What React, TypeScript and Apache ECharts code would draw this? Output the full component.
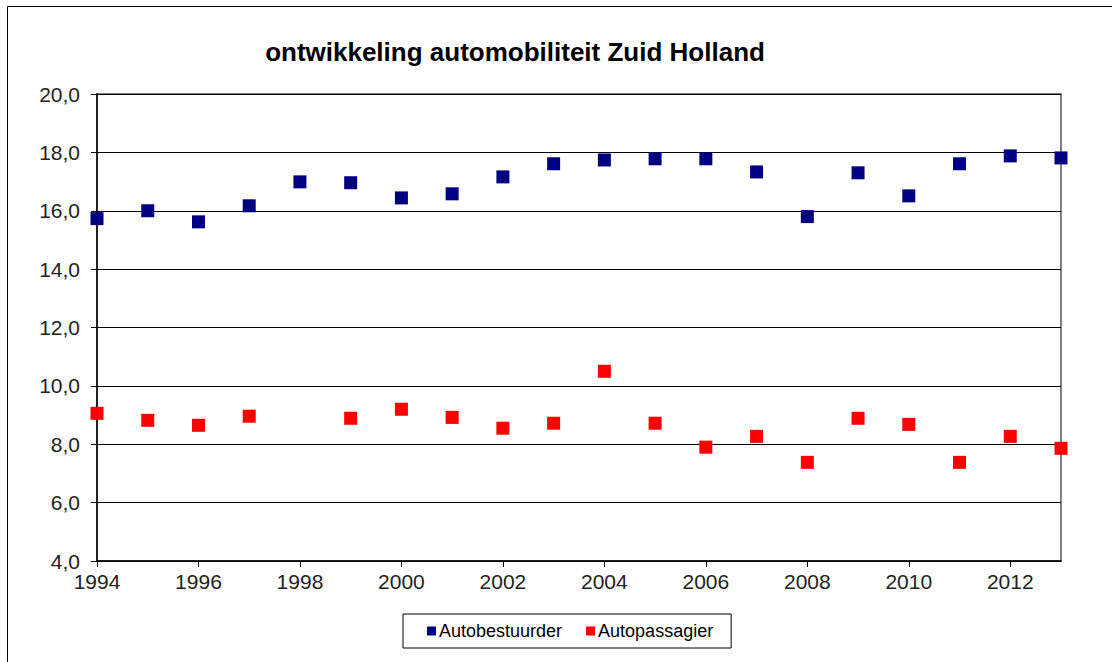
import React, { useEffect, useRef } from "react";
import * as echarts from "echarts";

const years = [1994, 1995, 1996, 1997, 1998, 1999, 2000, 2001, 2002, 2003, 2004, 2005, 2006, 2007, 2008, 2009, 2010, 2011, 2012, 2013];
const autobestuurder = [15.73, 16.0, 15.62, 16.17, 16.99, 16.96, 16.44, 16.58, 17.16, 17.61, 17.74, 17.78, 17.78, 17.33, 15.8, 17.3, 16.51, 17.61, 17.88, 17.81];
const autopassagier: (number | null)[] = [9.06, 8.82, 8.65, 8.96, null, 8.89, 9.2, 8.92, 8.55, 8.72, 10.5, 8.72, 7.9, 8.27, 7.38, 8.89, 8.68, 7.38, 8.27, 7.86];
const seriesNames = ["Autobestuurder", "Autopassagier"];
const title = "ontwikkeling automobiliteit Zuid Holland";

const FONT = "Liberation Sans, Arial, sans-serif";

export default function App() {
  const ref = useRef<HTMLDivElement>(null);
  useEffect(() => {
    if (!ref.current) return;
    const chart = echarts.init(ref.current, null, { renderer: "svg" });
    const toPairs = (vals: (number | null)[]) =>
      years.map((y, i) => (vals[i] == null ? null : [y, vals[i]])).filter((p) => p !== null);
    chart.setOption({
      animation: false,
      backgroundColor: "#ffffff",
      title: {
        text: title,
        left: 510,
        top: 34,
        textAlign: "center",
        textStyle: { fontFamily: FONT, fontSize: 26, fontWeight: "bold", color: "#000" },
      },
      graphic: [
        {
          type: "rect",
          shape: { x: 7.5, y: 6.5, width: 1200, height: 800 },
          style: { fill: "none", stroke: "#000", lineWidth: 1 },
          silent: true,
        },
      ],
      legend: {
        left: 403,
        top: 614,
        padding: [8, 18, 8, 24],
        itemGap: 24,
        itemWidth: 9,
        itemHeight: 9,
        icon: "rect",
        borderColor: "#000",
        borderWidth: 1,
        textStyle: { fontFamily: FONT, fontSize: 18, color: "#000", padding: [0, 0, 0, -2] },
        data: seriesNames,
      },
      grid: {
        left: 97,
        right: 51,
        top: 94,
        bottom: 101,
        show: true,
        borderColor: "#808080",
        borderWidth: 2,
        backgroundColor: "#fff",
      },
      xAxis: {
        type: "value",
        min: 1994,
        max: 2013,
        interval: 2,
        axisLine: { show: true, onZero: false, lineStyle: { color: "#000", width: 1.5 } },
        axisTick: { show: true, length: 6, lineStyle: { color: "#000" } },
        axisLabel: {
          fontFamily: FONT,
          fontSize: 21,
          color: "#222",
          margin: 10,
          showMaxLabel: false,
          formatter: (v: number) => String(v),
        },
        splitLine: { show: false },
      },
      yAxis: {
        type: "value",
        min: 4,
        max: 20,
        interval: 2,
        axisLine: { show: true, lineStyle: { color: "#000", width: 1.5 } },
        axisTick: { show: true, length: 6, lineStyle: { color: "#000" } },
        axisLabel: {
          fontFamily: FONT,
          fontSize: 21,
          color: "#222",
          margin: 17,
          formatter: (v: number) => v.toFixed(1).replace(".", ","),
        },
        splitLine: { show: true, lineStyle: { color: "#000", width: 1 } },
      },
      series: [
        {
          name: seriesNames[0],
          type: "scatter",
          symbol: "rect",
          symbolSize: 13,
          clip: false,
          itemStyle: { color: "#000080", opacity: 1 },
          data: toPairs(autobestuurder),
        },
        {
          name: seriesNames[1],
          type: "scatter",
          symbol: "rect",
          symbolSize: 13,
          clip: false,
          itemStyle: { color: "#ff0000", opacity: 1 },
          data: toPairs(autopassagier),
        },
      ],
    });
    return () => chart.dispose();
  }, []);
  return <div ref={ref} style={{ position: "fixed", left: 0, top: 0, width: 1112, height: 662 }} />;
}
